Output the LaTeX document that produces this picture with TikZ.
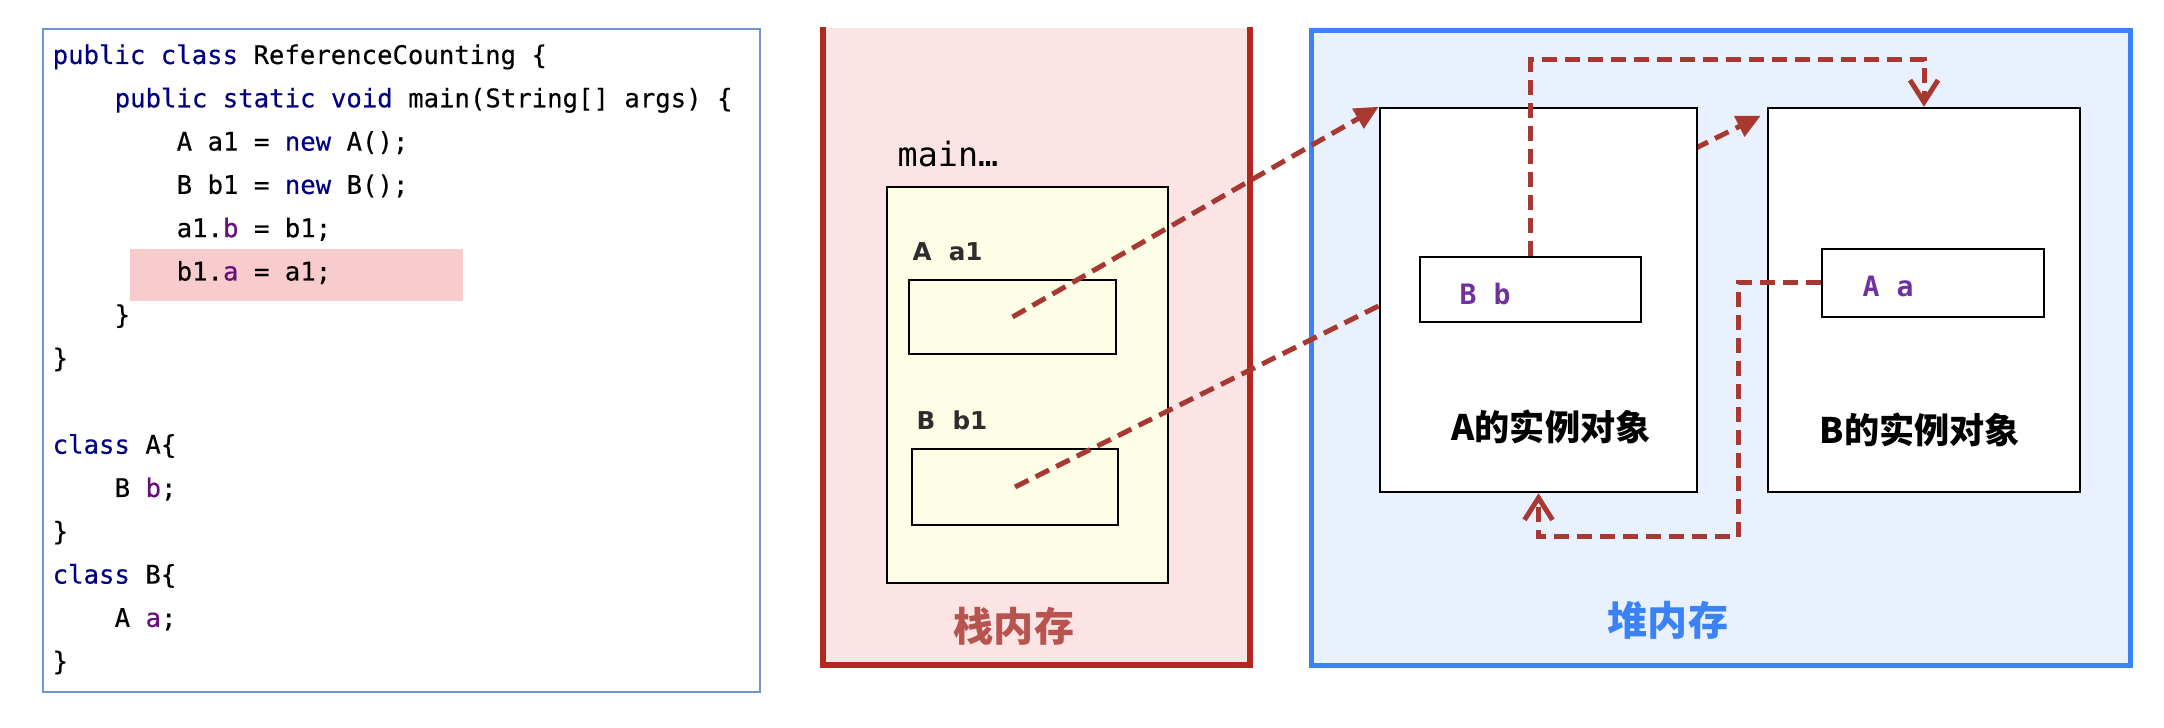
\documentclass[tikz,border=0pt]{standalone}
\usepackage{fontspec}
\newfontfamily\codefont[FakeBold=0.35]{DejaVu Sans Mono}
\newfontfamily\slotfont{DejaVu Sans Mono}
\newfontfamily\varfont{DejaVu Sans}
\newfontfamily\cjk{Noto Sans CJK SC}
\usetikzlibrary{arrows.meta}
\definecolor{kwblue}{RGB}{0,0,128}
\definecolor{fieldpurple}{RGB}{102,14,122}
\definecolor{markpink}{RGB}{248,204,204}
\definecolor{codeframe}{RGB}{111,148,204}
\definecolor{stackred}{RGB}{178,40,30}
\definecolor{stackfill}{RGB}{252,228,228}
\definecolor{stacktext}{RGB}{184,84,80}
\definecolor{framefill}{RGB}{254,254,230}
\definecolor{heapblue}{RGB}{59,130,246}
\definecolor{heapfill}{RGB}{232,241,253}
\definecolor{refred}{RGB}{168,56,50}
\definecolor{slotpurple}{RGB}{112,48,160}
\definecolor{vargray}{RGB}{45,45,45}
\newcommand{\javakw}[1]{\textcolor{kwblue}{#1}}
\newcommand{\javafield}[1]{\textcolor{fieldpurple}{#1}}
\begin{document}
\begin{tikzpicture}[x=0.1mm, y=-0.1mm,
            codeline/.style={anchor=base west, inner sep=0pt, font=\codefont\fontsize{7.3}{9}\selectfont},
            varname/.style={anchor=base west, inner sep=0pt, text=vargray, font=\varfont\bfseries\fontsize{7}{9}\selectfont},
            fieldname/.style={anchor=base west, inner sep=0pt, text=slotpurple, font=\slotfont\bfseries\fontsize{8}{10}\selectfont},
            slot/.style={draw, line width=0.2mm, inner sep=0pt},
            object/.style={draw, line width=0.25mm, fill=white, inner sep=0pt, minimum height=38.4mm},
            objname/.style={font=\cjk\bfseries\fontsize{10}{12}\selectfont},
            region/.style={font=\cjk\bfseries\fontsize{11.4}{13}\selectfont},
            ref/.style={draw=refred, line width=0.5mm, dash pattern=on 1.5mm off 0.8mm},
            reftip/.style={-{Triangle[length=2.4mm, width=2.2mm]}},
            backtip/.style={-{Straight Barb[length=2.2mm, width=2.8mm]}}
        ]
            \useasboundingbox (0,0) rectangle (2164,728);
            % code
            \node[draw=codeframe, line width=0.25mm, inner sep=0pt, minimum width=71.7mm, minimum height=66.3mm] (code) at (401.5,360.5) {};
            \node[fill=markpink, inner sep=0pt, minimum width=33.3mm, minimum height=5.2mm] (mark) at (296.5,275) {};
            \node[codeline] (c1) at (52,64) {\javakw{public class} ReferenceCounting \{};
            \node[codeline] (c2) at (114,107.3) {\javakw{public static void} main(String[] args) \{};
            \node[codeline] (c3) at (176,150.6) {A a1 = \javakw{new} A();};
            \node[codeline] (c4) at (176,193.9) {B b1 = \javakw{new} B();};
            \node[codeline] (c5) at (176,237.2) {a1.\javafield{b} = b1;};
            \node[codeline] (c6) at (176,280.5) {b1.\javafield{a} = a1;};
            \node[codeline] (c7) at (114,323.8) {\}};
            \node[codeline] (c8) at (52,367.1) {\}};
            \node[codeline] (c9) at (52,453.7) {\javakw{class} A\{};
            \node[codeline] (c10) at (114,497) {B \javafield{b};};
            \node[codeline] (c11) at (52,540.3) {\}};
            \node[codeline] (c12) at (52,583.6) {\javakw{class} B\{};
            \node[codeline] (c13) at (114,626.9) {A \javafield{a};};
            \node[codeline] (c14) at (52,670.2) {\}};
            % stack
            \node[fill=stackfill, inner sep=0pt, minimum width=42.5mm, minimum height=63.6mm] (stack) at (1036.5,346) {};
            \draw[stackred, line width=0.6mm] (stack.north west) -- (stack.south west) -- (stack.south east) -- (stack.north east);
            \node[draw, line width=0.2mm, fill=framefill, inner sep=0pt, minimum width=28.1mm, minimum height=39.6mm] (frame) at (1027.5,385) {};
            \node[anchor=base west, inner sep=0pt, font=\slotfont\fontsize{9.5}{11}\selectfont] (mainname) at (897,167) {main…};
            \node[varname] (a1name) at (912,261) {A\ \ a1};
            \node[slot, minimum width=20.7mm, minimum height=7.4mm] (a1slot) at (1012.5,317) {};
            \node[varname] (b1name) at (916,430) {B\ \ b1};
            \node[slot, minimum width=20.6mm, minimum height=7.6mm] (b1slot) at (1015,487) {};
            \node[region, text=stacktext] (stackname) at (1014,626) {栈内存};
            % heap
            \node[draw=heapblue, line width=0.5mm, fill=heapfill, inner sep=0pt, minimum width=81.9mm, minimum height=63.5mm] (heap) at (1720.5,348.5) {};
            \node[object, minimum width=31.2mm] (Bobj) at (1924,300) {};
            \draw[ref, reftip] (b1slot.center) -- ([shift={(-6,9)}]Bobj.north west);
            \node[object, minimum width=31.7mm] (Aobj) at (1538.5,300) {};
            \draw[ref, reftip] (a1slot.center) -- (Aobj.north west);
            \node[slot, minimum width=22.1mm, minimum height=6.5mm] (bslot) at (1530.5,289.5) {};
            \node[fieldname] (bname) at (1459,305) {B b};
            \node[slot, minimum width=22.2mm, minimum height=6.8mm] (aslot) at (1933,283) {};
            \node[fieldname] (aname) at (1862,297) {A a};
            \node[objname] (Aname) at (1551,427) {A的实例对象};
            \node[objname] (Bname) at (1920,430) {B的实例对象};
            \node[region, text=heapblue] (heapname) at (1668,620) {堆内存};
            \coordinate (btop) at (1924,60);
            \coordinate (aturn) at (1738,537);
            \draw[ref, backtip] (bslot.north) |- (btop) -- (Bobj.north);
            \draw[ref, backtip] (aslot.west) -| (aturn) -| (Aobj.south);
        \end{tikzpicture}
\end{document}
